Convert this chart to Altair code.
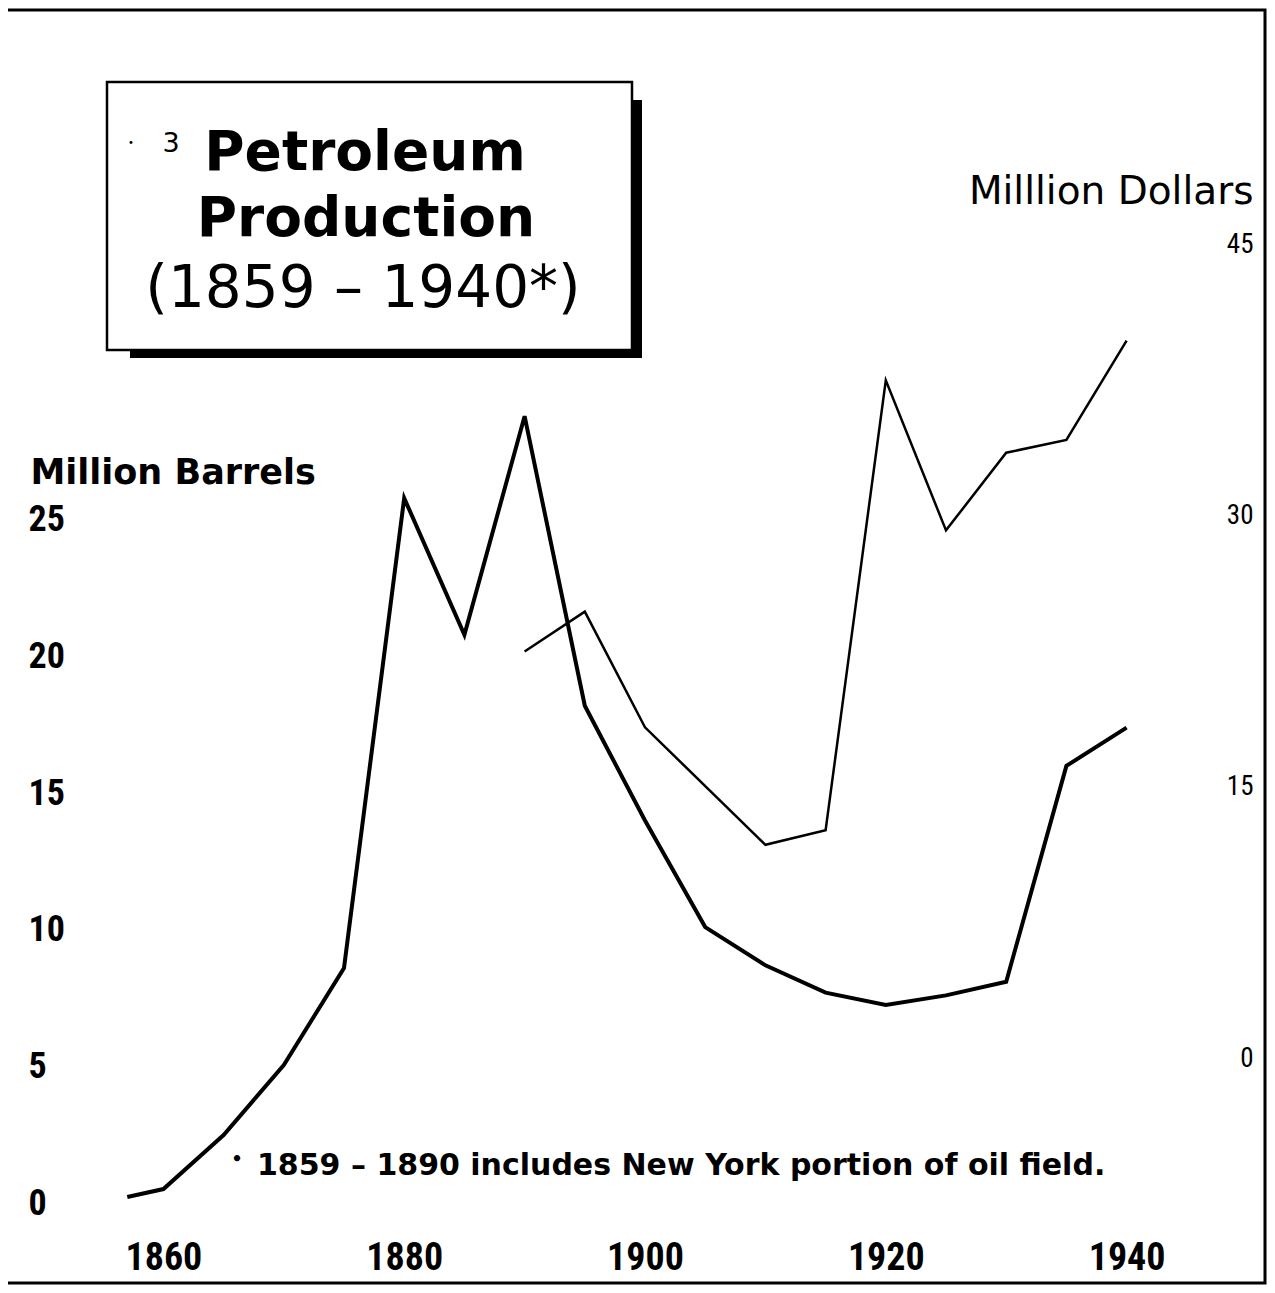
import altair as alt
import pandas as pd

# ---------------- data ----------------
years_barrels = [1857, 1860, 1865, 1870, 1875, 1880, 1885, 1890, 1895, 1900,
                 1905, 1910, 1915, 1920, 1925, 1930, 1935, 1940]
million_barrels = [0.22, 0.51, 2.49, 5.05, 8.60, 25.8, 20.8, 28.8, 18.2, 14.0,
                   10.1, 8.7, 7.7, 7.25, 7.6, 8.1, 16.0, 17.4]

years_dollars = [1890, 1895, 1900, 1910, 1915, 1920, 1925, 1930, 1935, 1940]
million_dollars = [22.5, 24.7, 18.3, 11.8, 12.6, 37.5, 29.2, 33.5, 34.2, 39.7]

x_ticks = [1860, 1880, 1900, 1920, 1940]
left_ticks = [0, 5, 10, 15, 20, 25]
right_ticks = [0, 15, 30, 45]

title_lines = ["Petroleum", "Production", "(1859 \u2013 1940*)"]
footnote = "1859 \u2013 1890 includes New York portion of oil field."

barrels_df = pd.DataFrame({"Year": years_barrels, "Value": million_barrels})
dollars_df = pd.DataFrame({"Year": years_dollars, "Value": million_dollars})
one = pd.DataFrame({"k": [0]})

# ---------------- geometry ----------------
PLOT_L, PLOT_T = 43, 236          # page coords of plot-area origin
W, H = 1204, 994
PAD = {"left": PLOT_L - 8, "top": PLOT_T - 8, "right": 20, "bottom": 1277 - (PLOT_T - 8) - H}


def px(x):
    return x - PLOT_L


def py(y):
    return y - PLOT_T


NARROW = "'Roboto Condensed', 'Noto Sans Condensed', 'Liberation Sans Narrow', 'DejaVu Sans Condensed', sans-serif"
WIDE = "'DejaVu Sans', sans-serif"

x_enc = alt.X(
    "Year:Q",
    scale=alt.Scale(domain=[1850, 1950], nice=False, zero=False),
    axis=alt.Axis(
        values=x_ticks, format="d", domain=False, ticks=False, tickSize=0, grid=False,
        labelFont=NARROW, labelFontSize=38, labelFontWeight="bold", labelColor="black",
        labelPadding=28, labelBaseline="middle", labelFlush=False, labelOverlap=False,
        title=None, orient="bottom",
    ),
)

barrels = alt.Chart(barrels_df).mark_line(color="black", strokeWidth=4).encode(
    x=x_enc,
    y=alt.Y(
        "Value:Q",
        scale=alt.Scale(domain=[-0.988, 35.395], nice=False, zero=False),
        axis=alt.Axis(
            orient="left", values=left_ticks, format="d", domain=False, ticks=False,
            tickSize=0, grid=False, labelFont=NARROW, labelFontSize=36,
            labelFontWeight="bold", labelColor="black", labelAlign="left",
            labelPadding=15, labelBaseline="middle", labelOverlap=False, labelFlush=False,
            title="Million Barrels", titleAngle=0, titleAlign="left",
            titleBaseline="alphabetic", titleX=-13, titleY=247, titleFont=WIDE,
            titleFontSize=35, titleFontWeight="bold", titleColor="black",
        ),
    ),
)

dollars = alt.Chart(dollars_df).mark_line(color="black", strokeWidth=2.5).encode(
    x=x_enc,
    y=alt.Y(
        "Value:Q",
        scale=alt.Scale(domain=[-9.518, 45.49], nice=False, zero=False),
        axis=alt.Axis(
            orient="right", values=right_ticks, format="d", domain=False, ticks=False,
            tickSize=0, grid=False, labelFont=NARROW, labelFontSize=27,
            labelFontWeight="normal", labelColor="black", labelAlign="right",
            labelPadding=6, labelBaseline="middle", labelOverlap=False, labelFlush=False,
            title="Milllion Dollars", titleAngle=0, titleAlign="right",
            titleBaseline="alphabetic", titleX=6, titleY=-33, titleFont=WIDE,
            titleFontSize=39, titleFontWeight="normal", titleColor="black",
        ),
    ),
)


def rect(x1, x2, y1, y2, **kw):
    return alt.Chart(one).mark_rect(**kw).encode(
        x=alt.value(px(x1)), x2=alt.value(px(x2)),
        y=alt.value(py(y1)), y2=alt.value(py(y2)),
    )


def text(t, x, y, size, weight="normal", align="center", baseline="alphabetic", font=WIDE):
    return alt.Chart(one).mark_text(
        text=t, fontSize=size, fontWeight=weight, align=align, baseline=baseline,
        font=font, color="black",
    ).encode(x=alt.value(px(x)), y=alt.value(py(y)))


frame = rect(6, 1265, 10, 1283, fillOpacity=0, stroke="black", strokeWidth=3)
shadow = rect(130, 642, 100, 358, color="black")
box = rect(107, 632, 82, 350, fill="white", stroke="black", strokeWidth=2.5)

t_dot = text("\u2022", 131, 146, 10)
t_sup = text("3", 171, 152, 27, weight="normal")
t1 = text(title_lines[0], 365, 170, 55, weight="bold")
t2 = text(title_lines[1], 366, 236, 55, weight="bold")
t3 = text(title_lines[2], 363, 307, 58, weight="normal")

f_bullet = text("\u2022", 237, 1165, 18, weight="bold")
f_text = text(footnote, 257, 1175, 30, weight="bold", align="left")

lines = alt.layer(barrels, dollars).resolve_scale(y="independent")

chart = alt.layer(
    frame, shadow, box, t_dot, t_sup, t1, t2, t3, f_bullet, f_text, lines
).resolve_scale(y="independent").properties(
    width=W, height=H, padding=PAD,
    autosize=alt.AutoSizeParams(type="none"),
    background="white",
).configure_view(strokeWidth=0)

chart.save("out.html", embed_options={"renderer": "svg", "actions": False})
